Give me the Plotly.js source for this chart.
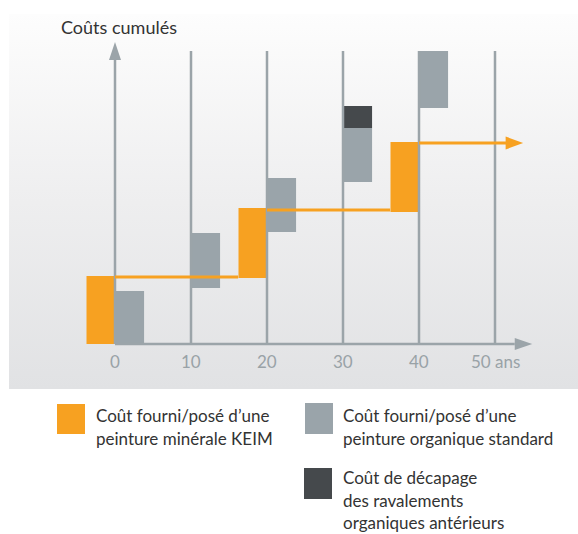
<!DOCTYPE html>
<html>
<head>
<meta charset="utf-8">
<script src="https://cdn.plot.ly/plotly-3.0.1.min.js"></script>
<style>
  html, body { margin: 0; padding: 0; background: #ffffff; }
  #wrap { position: relative; width: 578px; height: 534px; overflow: hidden; }
  #bg { position: absolute; left: 9px; top: 14px; width: 569px; height: 375px;
        background: linear-gradient(to bottom, #fdfdfd 0%, #eeeeef 50%, #e1e2e4 100%); }
  #chart { position: absolute; left: 0; top: 0; width: 578px; height: 534px; }
</style>
</head>
<body>
<div id="wrap"><div id="bg"></div><div id="chart"></div></div>
<script>
// ---- data (cumulative cost, arbitrary units; years) ----
const keimYears = [0, 20, 40];
const keimBase  = [0, 66, 132];
const keimTop   = [68, 136, 202];

const orgYears = [0, 10, 20, 30, 40];
const orgBase  = [0, 56, 112, 162, 236];
const orgTop   = [53, 111, 166, 216, 293];

const stripYears = [30];
const stripBase  = [216];
const stripTop   = [238];

const keimLineLevel = [67, 134, 201];
const keimLineEnd = 53.7;

const gridYears = [10, 20, 30, 40, 50];
const tickYears = [0, 10, 20, 30, 40, 50];
const tickLabels = ['0', '10', '20', '30', '40', '50 ans'];

const yTitle = 'Coûts cumulés';
const legendKeim  = ['Coût fourni/posé d’une', 'peinture minérale KEIM'];
const legendOrg   = ['Coût fourni/posé d’une', 'peinture organique standard'];
const legendStrip = ['Coût de décapage', 'des ravalements', 'organiques antérieurs'];

// ---- styles ----
const ORANGE = '#f7a121';
const GRAY = '#9aa4aa';
const DARK = '#45494c';
const AXIS = '#9ba4a9';
const TEXT = '#333333';
const FONT = 'Lato, "Open Sans", sans-serif';

const W = 578, H = 534;
const PXX = 7.6;          // px per year
const X0 = 115, Y0 = 344; // pixel of origin
const xRange = [-X0 / PXX, (W - X0) / PXX];
const yRange = [-(H - Y0), Y0];
const BW = 3.7;
const gridTop = Math.max(...orgTop);
const yArrowTip = 302, yArrowBase = 284;
const xArrowBase = 52.6, xArrowTip = 54.9;

const px = v => v / W, py = v => 1 - v / H;

const traces = [];

// grid lines
const gx = [], gy = [];
gridYears.forEach(g => { gx.push(g, g, null); gy.push(0, gridTop, null); });
traces.push({type: 'scatter', mode: 'lines', x: gx, y: gy, hoverinfo: 'skip',
  line: {color: AXIS, width: 2.5}});
// axes
traces.push({type: 'scatter', mode: 'lines', x: [0, 0, null, 0, xArrowBase], y: [0, yArrowBase, null, 0, 0],
  hoverinfo: 'skip', line: {color: AXIS, width: 2.5}});
// axis arrowheads
traces.push({type: 'scatter', mode: 'lines', fill: 'toself', fillcolor: AXIS, hoverinfo: 'skip',
  x: [-6 / PXX, 0, 6 / PXX, -6 / PXX], y: [yArrowBase, yArrowTip, yArrowBase, yArrowBase], line: {width: 0, color: AXIS}});
traces.push({type: 'scatter', mode: 'lines', fill: 'toself', fillcolor: AXIS, hoverinfo: 'skip',
  x: [xArrowBase, xArrowTip, xArrowBase, xArrowBase], y: [-6, 0, 6, -6], line: {width: 0, color: AXIS}});

// bars
traces.push({type: 'bar', x: orgYears.map(v => v + 1.9), base: orgBase,
  y: orgTop.map((t, i) => t - orgBase[i]), width: 3.85, marker: {color: GRAY, line: {width: 0}}, hoverinfo: 'skip'});
traces.push({type: 'bar', x: stripYears.map(v => v + 1.9), base: stripBase,
  y: stripTop.map((t, i) => t - stripBase[i]), width: 3.85, marker: {color: DARK, line: {width: 0}}, hoverinfo: 'skip'});
traces.push({type: 'bar', x: keimYears.map(v => v - 1.9), base: keimBase,
  y: keimTop.map((t, i) => t - keimBase[i]), width: BW, marker: {color: ORANGE, line: {width: 0}}, hoverinfo: 'skip'});

// keim cumulative line
const lx = [], ly = [];
keimYears.forEach((yr, i) => {
  const end = i < keimYears.length - 1 ? keimYears[i + 1] - 3.8 : keimLineEnd - 2.2;
  lx.push(yr, end, null); ly.push(keimLineLevel[i], keimLineLevel[i], null);
});
traces.push({type: 'scatter', mode: 'lines', x: lx, y: ly, hoverinfo: 'skip',
  line: {color: ORANGE, width: 3}});
const lastLvl = keimLineLevel[keimLineLevel.length - 1];
traces.push({type: 'scatter', mode: 'lines', fill: 'toself', fillcolor: ORANGE, hoverinfo: 'skip',
  x: [keimLineEnd - 2.3, keimLineEnd, keimLineEnd - 2.3, keimLineEnd - 2.3],
  y: [lastLvl - 6.5, lastLvl, lastLvl + 6.5, lastLvl - 6.5], line: {width: 0, color: ORANGE}});

// annotations
const ann = [];
tickYears.forEach((t, i) => ann.push({x: t, y: -17, xref: 'x', yref: 'y', text: tickLabels[i],
  showarrow: false, xanchor: 'center', yanchor: 'middle', font: {family: FONT, size: 17, color: '#99a2a7'}}));
ann.push({x: px(119), y: py(27), xref: 'paper', yref: 'paper', text: yTitle, showarrow: false,
  xanchor: 'center', yanchor: 'middle', font: {family: FONT, size: 18, color: TEXT}});

function legendText(lines, xLeft, yCenters) {
  lines.forEach((l, i) => ann.push({x: px(xLeft), y: py(yCenters[i]), xref: 'paper', yref: 'paper', text: l,
    showarrow: false, xanchor: 'left', yanchor: 'middle', font: {family: FONT, size: 17, color: TEXT}}));
}
legendText(legendKeim, 94, [415, 438]);
legendText(legendOrg, 341, [415, 438]);
legendText(legendStrip, 341, [477, 500, 522]);

const shapes = [
  {type: 'rect', xref: 'paper', yref: 'paper', x0: px(57), x1: px(85), y0: py(404), y1: py(434), fillcolor: ORANGE, line: {width: 0}},
  {type: 'rect', xref: 'paper', yref: 'paper', x0: px(305), x1: px(333), y0: py(403), y1: py(434), fillcolor: GRAY, line: {width: 0}},
  {type: 'rect', xref: 'paper', yref: 'paper', x0: px(304), x1: px(332), y0: py(468), y1: py(499), fillcolor: DARK, line: {width: 0}}
];

const layout = {
  width: W, height: H, margin: {l: 0, r: 0, t: 0, b: 0, pad: 0},
  paper_bgcolor: 'rgba(0,0,0,0)', plot_bgcolor: 'rgba(0,0,0,0)',
  showlegend: false, barmode: 'overlay',
  xaxis: {range: xRange, visible: false, fixedrange: true},
  yaxis: {range: yRange, visible: false, fixedrange: true},
  annotations: ann, shapes: shapes
};
Plotly.newPlot('chart', traces, layout, {displayModeBar: false, staticPlot: true});
</script>
</body>
</html>
